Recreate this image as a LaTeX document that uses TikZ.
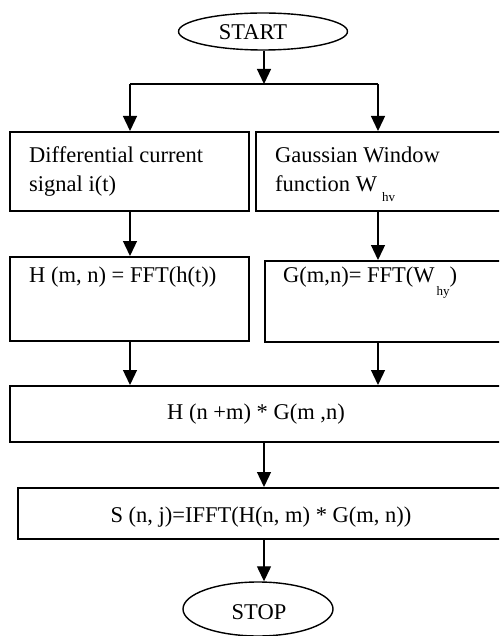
\documentclass[tikz,border=0pt]{standalone}
\usepackage{fontspec}
\setmainfont{Liberation Serif}
\usetikzlibrary{shapes.geometric,arrows.meta}
\begin{document}
\begin{tikzpicture}[x=1pt,y=-1pt,
  boxst/.style={draw,line width=1.6pt,rectangle,anchor=north west,inner sep=0pt},
  term/.style={draw,line width=1.4pt,ellipse,inner sep=0pt},
  txt/.style={font=\fontsize{22.5}{27}\selectfont,inner sep=0pt},
  subtxt/.style={font=\fontsize{13}{13}\selectfont},
  arr/.style={line width=1.3pt,-{Triangle[length=15pt,width=14pt]}},
  ln/.style={line width=1.3pt}]
\useasboundingbox (0,0) rectangle (499,636);
\clip (0,0) rectangle (499,636);
% terminals
\node[term,minimum width=169pt,minimum height=37pt] (start) at (263,31.5) {};
\node[txt,anchor=base] (starttxt) at (253,40) {START};
\node[term,minimum width=150pt,minimum height=54pt] (stop) at (258,609) {};
\node[txt,anchor=base] (stoptxt) at (259,619) {STOP};
% boxes
\node[boxst,minimum width=239pt,minimum height=79pt] (b1) at (9,131) {};
\node[boxst,minimum width=260pt,minimum height=79pt] (b2) at (255,131) {};
\node[boxst,minimum width=239pt,minimum height=84pt] (b3) at (9,256) {};
\node[boxst,minimum width=250pt,minimum height=81pt] (b4) at (264,260) {};
\node[boxst,minimum width=510pt,minimum height=56pt] (b5) at (9,385) {};
\node[boxst,minimum width=500pt,minimum height=51pt] (b6) at (17,487) {};
% texts
\node[txt,anchor=base west] (t1a) at (29,163) {Differential current};
\node[txt,anchor=base west] (t1b) at (29,192) {signal i(t)};
\node[txt,anchor=base west] (t2a) at (275,163) {Gaussian Window};
\node[txt,anchor=base west] (t2b) at (275,192) {function W\hspace{5pt}\raisebox{-10pt}{\fontsize{13}{13}\selectfont hv}};
\node[txt,anchor=base west] (t3) at (29,282) {H (m, n) = FFT(h(t))};
\node[txt,anchor=base west] (t4) at (283,282) {G(m,n)= FFT(W\hspace{2pt}\raisebox{-13pt}{\fontsize{13}{13}\selectfont hy})};
\node[txt,anchor=base] (t5) at (256,419) {H (n +m) * G(m ,n)};
\node[txt,anchor=base] (t6) at (261,522) {S (n, j)=IFFT(H(n, m) * G(m, n))};
% helper coordinates
\coordinate (split) at (264,84);
\coordinate (sL) at (130,84);
\coordinate (sR) at (378,84);
\coordinate (cM) at (264,0);
% connectors
\draw[arr] (start.south -| split) -- (split);
\draw[ln] (sL) -- (sR);
\draw[arr] (sL) -- (b1.north -| sL);
\draw[arr] (sR) -- (b2.north -| sR);
\draw[arr] (b1.south -| sL) -- (b3.north -| sL);
\draw[arr] (b2.south -| sR) -- (b4.north -| sR);
\draw[arr] (b3.south -| sL) -- (b5.north -| sL);
\draw[arr] (b4.south -| sR) -- (b5.north -| sR);
\draw[arr] (b5.south -| cM) -- (b6.north -| cM);
\draw[arr] (b6.south -| cM) -- (stop.north -| cM);
\end{tikzpicture}
\end{document}
